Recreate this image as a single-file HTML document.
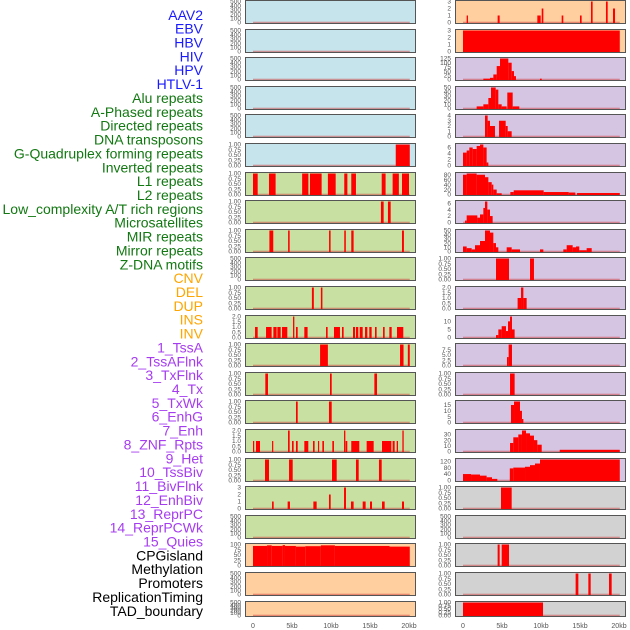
<!DOCTYPE html>
<html><head><meta charset="utf-8"><style>
body{margin:0;background:#fff;}
svg{display:block;font-family:"Liberation Sans",sans-serif;}
</style></head><body>
<svg id="chart" width="630" height="630" viewBox="0 0 630 630"></svg>
<script>
const labels = ["AAV2","EBV","HBV","HIV","HPV","HTLV-1","Alu repeats","A-Phased repeats","Directed repeats","DNA transposons","G-Quadruplex forming repeats","Inverted repeats","L1 repeats","L2 repeats","Low_complexity A/T rich regions","Microsatellites","MIR repeats","Mirror repeats","Z-DNA motifs","CNV","DEL","DUP","INS","INV","1_TssA","2_TssAFlnk","3_TxFlnk","4_Tx","5_TxWk","6_EnhG","7_Enh","8_ZNF_Rpts","9_Het","10_TssBiv","11_BivFlnk","12_EnhBiv","13_ReprPC","14_ReprPCWk","15_Quies","CPGisland","Methylation","Promoters","ReplicationTiming","TAD_boundary"];
const labelColors = [6,"#1a1aff",13,"#127812",5,"#ffa500",15,"#a63cf0",5,"#000"];
const xTicks = [0,5,10,15,20];
const xTickLabels = ["0","5kb","10kb","15kb","20kb"];
const T500=["0","100","200","300","400","500"], TF=["0.00","0.25","0.50","0.75","1.00"], T2=["0.0","0.5","1.0","1.5","2.0"], T3=["0","1","2","3"];
const leftBg = ["b","b","b","b","b","b","g","g","g","g","g","g","g","g","g","g","g","g","g","p","p","p"];
const leftTicks = [T500,T500,T500,T500,T500,TF,TF,TF,TF,T500,TF,T2,TF,TF,TF,T2,TF,T3,T500,["0","25","50","75","100"],T500,T500];
const leftMax = [500,500,500,500,500,1,1,1,1,500,1,2,1,1,1,2,1,3,500,100,500,500];
const leftData = [[],[],[],[],[],
[[18.3,20.1,1]],
[[0,0.6,1],[2.05,2.9,1],[6.3,7.1,1],[7.3,8.8,1],[9.6,10.6,1],[11.7,12.1,1],[12.6,13.2,1],[16.5,17.0,1],[17.9,18.7,1],[19.1,20.0,1]],
[[16.4,16.75,1],[17.3,17.65,1]],
[[2.1,2.6,1],[4.5,4.7,1],[9.75,9.95,1],[11.7,11.9,1],[12.6,12.9,1],[19.1,19.35,1]],
[],
[[7.55,7.8,1],[8.7,8.9,1]],
[[0.26,0.6,1],[1.67,2.39,1],[2.61,3.03,1],[3.12,3.55,1],[3.72,4.4,1],[5.13,5.3,2],[5.51,5.73,1],[6.58,7.0,1],[9.36,9.57,1],[10.38,11.15,1],[11.41,11.62,1],[12.82,13.08,1],[13.2,13.5,1],[13.68,14.06,1],[14.36,14.66,1],[14.91,15.21,1],[15.64,15.85,1],[16.67,16.88,1],[17.48,17.78,1],[18.46,19.27,1]],
[[8.6,9.6,1],[18.85,19.3,1],[19.85,20.1,1]],
[[1.58,1.92,1],[9.87,10.09,1],[15.56,15.9,1]],
[[5.51,5.73,1],[9.74,10.09,1]],
[[0,0.1,1],[0.38,0.9,1],[2.44,2.6,1],[4.49,4.7,2],[5.0,5.21,1],[5.51,5.73,1],[6.58,7.09,1],[7.69,7.9,1],[8.33,8.46,1],[8.89,9.1,1],[10.17,10.38,1],[11.67,11.84,2],[11.88,12.09,1],[12.6,13.63,1],[14.57,15.47,1],[16.54,17.74,1],[17.9,18.16,1],[18.42,18.59,1],[19.15,19.32,2]],
[[1.54,2.05,1],[4.62,5.09,1],[10.13,10.73,1],[13.2,13.55,1],[16.15,16.5,1]],
[[2.44,2.65,1],[4.44,4.74,1],[7.74,8.16,1],[9.74,9.96,2],[11.67,11.92,3],[12.56,12.9,1],[14.06,14.44,1],[15.0,15.26,1],[16.54,16.88,1],[19.1,19.36,1]],
[],
[[0,1.8,93],[1.8,2.4,96],[2.4,3.8,93],[3.8,4.1,97],[4.1,5.5,93],[5.5,6.7,90],[6.7,8.7,92],[8.7,10.5,96],[10.5,17.5,93],[17.5,20.1,90]],
[],[]];
const rightBg = ["p","p","u","u","u","u","u","u","u","u","u","u","u","u","u","u","u","y","y","y","y","y"];
const rightTicks = [T3,T3,["0","25","50","75","100","125"],["0","10","20","30","40","50"],["0","1","2","3","4"],["0","2","4","6"],["0","20","40","60","80"],["0","2","4","6"],["0","10","20","30","40","50"],TF,T2,["0","5","10"],["0.0","2.5","5.0","7.5"],TF,["0","5","10","15"],["0","10","20","30"],["0","40","80","120"],TF,T500,TF,TF,TF];
const rightMax = [3,3,125,50,4,7,85,6.5,50,1,2,13,10,1,18,37,130,1,500,1,1,1];
const rightData = [
[[0.47,0.64,1],[4.44,4.7,1],[9.53,9.96,1],[10.09,10.3,2],[12.65,12.86,1],[15.0,15.21,1],[16.41,16.62,3],[18.33,18.55,3],[19.23,19.49,2]],
[[0,20.1,3]],
[[2.61,3.46,5],[3.46,3.89,10],[3.89,4.32,30],[4.32,4.74,80],[4.74,5.81,125],[5.81,6.24,100],[6.24,6.54,50],[6.54,6.79,20],[9.87,10.09,5]],
[[1.75,2.61,5],[2.61,3.25,10],[3.25,3.59,25],[3.59,4.19,50],[4.19,4.53,45],[4.53,4.96,10],[4.96,5.6,5],[5.68,6.37,38],[6.37,7.22,5]],
[[2.82,3.16,4],[3.16,3.46,3],[3.46,4.1,2],[4.62,5.47,3],[5.47,5.73,2],[5.73,6.24,1]],
[[0,0.47,4.3],[0.47,0.81,5],[0.81,1.24,6],[1.24,1.75,5.5],[1.75,2.18,6.5],[2.18,2.61,7],[2.61,3.03,6],[3.03,3.25,1]],
[[0,0.47,80],[0.47,1.75,85],[1.75,2.82,80],[2.82,3.25,70],[3.25,3.68,50],[3.68,3.89,40],[3.89,4.32,20],[4.32,4.96,5],[6.07,6.5,10],[6.5,10.34,17],[10.34,13.55,10],[13.55,14.4,8],[14.62,20.1,6]],
[[0.26,0.47,0.6],[0.47,1.84,2.2],[1.84,2.18,1.5],[2.18,2.61,2.5],[2.61,2.82,4.5],[2.82,3.12,6.5],[3.12,3.46,4],[3.46,3.8,2]],
[[0,0.47,12],[0.47,1.11,8],[1.11,1.54,5],[1.54,2.18,15],[2.18,2.82,25],[2.82,3.46,50],[3.46,3.89,45],[3.89,4.23,20],[4.23,4.53,10],[5.6,6.24,10],[6.24,7.31,5],[9.87,10.3,5],[12.86,13.29,5],[13.29,14.06,15],[14.06,14.49,10],[14.49,14.91,12],[14.91,15.85,3],[15.85,16.5,8]],
[[4.23,5.9,1],[8.59,9.1,1]],
[[7.0,7.44,1],[7.44,7.74,2],[7.74,8.16,1]],
[[4.23,4.53,1.5],[4.53,4.96,5],[4.96,5.51,7],[5.51,5.77,4],[5.77,6.03,10],[6.03,6.28,13],[6.28,6.62,5]],
[[5.64,5.85,4],[5.85,6.28,10]],
[[6.03,6.62,1]],
[[6.15,6.54,15],[6.54,7.31,18],[7.31,7.56,10],[7.56,7.74,3]],
[[6.03,6.45,15],[6.45,7.09,25],[7.09,7.56,30],[7.56,8.08,37],[8.08,8.59,32],[8.59,9.1,28],[9.1,9.53,20],[9.53,10.09,12],[12.4,20.1,3]],
[[0,1.03,40],[1.03,2.18,37],[2.18,3.03,30],[3.03,3.72,20],[3.72,4.4,10],[6.0,6.45,75],[6.45,7.95,80],[7.95,8.59,85],[8.59,9.23,95],[9.23,9.87,105],[9.87,20.1,130]],
[[4.87,6.24,1]],
[],
[[4.44,4.7,1],[4.96,5.9,1]],
[[14.44,14.79,1],[16.07,16.37,1],[18.72,19.06,1]],
[[0,10.26,1]]];

const NS="http://www.w3.org/2000/svg";
const svg=document.getElementById('chart');
const bgColors={b:"#c6e4ec",g:"#c8e1a3",p:"#ffcf9f",u:"#d5c5e2",y:"#d2d2d2"};
function mk(tag,attrs,parent){const e=document.createElementNS(NS,tag);for(const k in attrs)e.setAttribute(k,attrs[k]);(parent||svg).appendChild(e);return e;}
function panelTop(i){return Math.round(i*28.6);}
function panelH(i){return i===21?16:24;}

let ci=0,cnt=0;
labels.forEach((t,i)=>{
  while(cnt>=labelColors[ci]){cnt-=labelColors[ci];ci+=2;}
  const txt=mk('text',{x:203,y:15+i*13.86+4.8,'text-anchor':'end','font-size':'14',fill:labelColors[ci+1]});
  
  
  txt.textContent=t; cnt++;
});

function drawColumn(x0,zeroX,bgArr,ticksArr,maxArr,dataArr,side){
  const w=171, kb=7.8;
  const xs=v=>zeroX+v*kb;
  for(let i=0;i<22;i++){
    const top=panelTop(i), h=panelH(i), bot=top+h;
    const g=mk('g',{});
    
    
    mk('rect',{x:x0,y:top,width:w,height:h,fill:bgColors[bgArr[i]]},g);
    const ymax=maxArr[i];
    const ys=v=>bot-1.5-(v/ymax)*(h-3);
    const tk=ticksArr[i];
    tk.forEach(lbl=>{
      const v=parseFloat(lbl);
      const tl=mk('text',{x:x0-4,y:ys(v)+2.2,'text-anchor':'end','font-size':'6.5',fill:'#555'},g);
      
      
      tl.textContent=lbl;
    });
    mk('rect',{x:xs(0),y:bot-2.3,width:xs(20.1)-xs(0),height:1.3,fill:'#d04040',opacity:0.5},g);
    dataArr[i].forEach(s=>{
      const y=Math.max(ys(s[2]),top+1);
      const b=mk('rect',{x:xs(s[0]),y:y,width:Math.max(xs(s[1])-xs(s[0]),1.2),height:bot-1-y,fill:'#ff0000'},g);
      
      
    });
    mk('rect',{x:x0+0.5,y:top+0.5,width:w-1,height:h-1,fill:'none',stroke:'#555','stroke-width':1},g);
  }
  xTicks.forEach((v,j)=>{
    const t=mk('text',{x:xs(v),y:628,'text-anchor':'middle','font-size':'7',fill:'#555'});
    
    
    t.textContent=xTickLabels[j];
  });
}
drawColumn(245,253,leftBg,leftTicks,leftMax,leftData,'left');
drawColumn(455,463,rightBg,rightTicks,rightMax,rightData,'right');
</script>
</body></html>
